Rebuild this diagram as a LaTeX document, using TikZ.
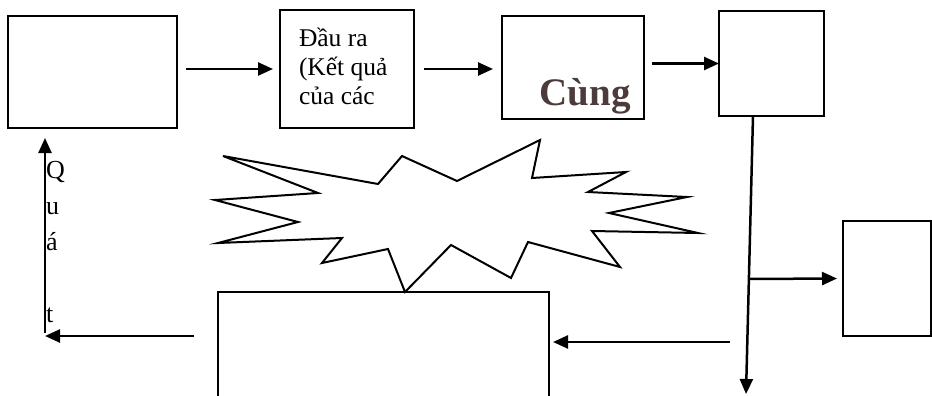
\documentclass[tikz,border=0pt]{standalone}
\usepackage{fontspec}
\setmainfont{Liberation Serif}
\usetikzlibrary{arrows.meta}
\definecolor{cungcol}{RGB}{77,59,59}
\begin{document}
\begin{tikzpicture}[x=1pt,y=-1pt,
  box/.style={draw,line width=2.3pt,inner sep=0pt,outer sep=0pt,anchor=north west},
  conn/.style={line width=2.5pt,-{Triangle[length=15pt,width=13pt]}},
  star/.style={draw,line width=2pt,line join=miter},
  lbl/.style={inner sep=0pt,outer sep=0pt}
]
\useasboundingbox (0,0) rectangle (932,396);
\clip (0,0) rectangle (932,396);
% boxes
\node[box,minimum width=169pt,minimum height=112pt] (b1) at (8,16) {};
\node[box,minimum width=134pt,minimum height=118pt] (b2) at (280,10) {};
\node[box,minimum width=142pt,minimum height=103pt] (b3) at (502,16) {};
\node[box,minimum width=105pt,minimum height=105pt] (b4) at (719,11) {};
\node[box,minimum width=88pt,minimum height=115pt] (b5) at (843,221) {};
\node[box,minimum width=331pt,minimum height=130pt] (b6) at (218,292) {};
% texts
\node[lbl,anchor=north west,align=left,font=\fontsize{25.5}{29}\selectfont] (t2) at (299,28) {Đầu ra\\(Kết quả\\của các};
\node[lbl,anchor=base,font=\fontsize{39}{44}\selectfont\bfseries,text=cungcol] (t3) at (585,106) {Cùng};
\node[lbl,anchor=north west,align=left,font=\fontsize{26}{36}\selectfont] (tq) at (46,161) {Q\\u\\á\\\mbox{}\\t};
% star
\draw[star] (223,156) -- (378,184) -- (402,156) -- (457,181) -- (540,140) -- (532,178)
  -- (626,172) -- (588,192) -- (687,197) -- (609,213) -- (698,233) -- (592,231)
  -- (620,267) -- (528,242) -- (511,278) -- (451,245) -- (405,292) -- (388,249)
  -- (322,263) -- (342,238) -- (218,243) -- (298,222) -- (215,200) -- (318,193) -- cycle;
% coordinates
\coordinate (vtop) at (753,116);
\coordinate (vend) at (746,394);
\coordinate (br) at (749.2,279);
\coordinate (ra) at (730,342);
\coordinate (la) at (194,336);
\coordinate (lc) at (45,336);
\coordinate (lb) at (45,333);
\coordinate (lt) at (45,138);
% connectors
\draw[conn] ([xshift=9pt]b1.east |- b2.west) -- ([xshift=-7pt]b2.west);
\draw[conn] ([xshift=10pt]b2.east) -- ([xshift=-9pt]b2.east -| b3.west);
\draw[conn] ([xshift=8pt]b3.east |- b4.west) -- (b4.west);
\draw[conn] (vtop) -- (vend);
\draw[conn] (br) -- ([xshift=-6pt]b5.west);
\draw[conn] (ra) -- ([xshift=4pt]b6.east |- ra);
\draw[conn] (la) -- (lc);
\draw[conn] (lb) -- (lt);
\end{tikzpicture}
\end{document}
